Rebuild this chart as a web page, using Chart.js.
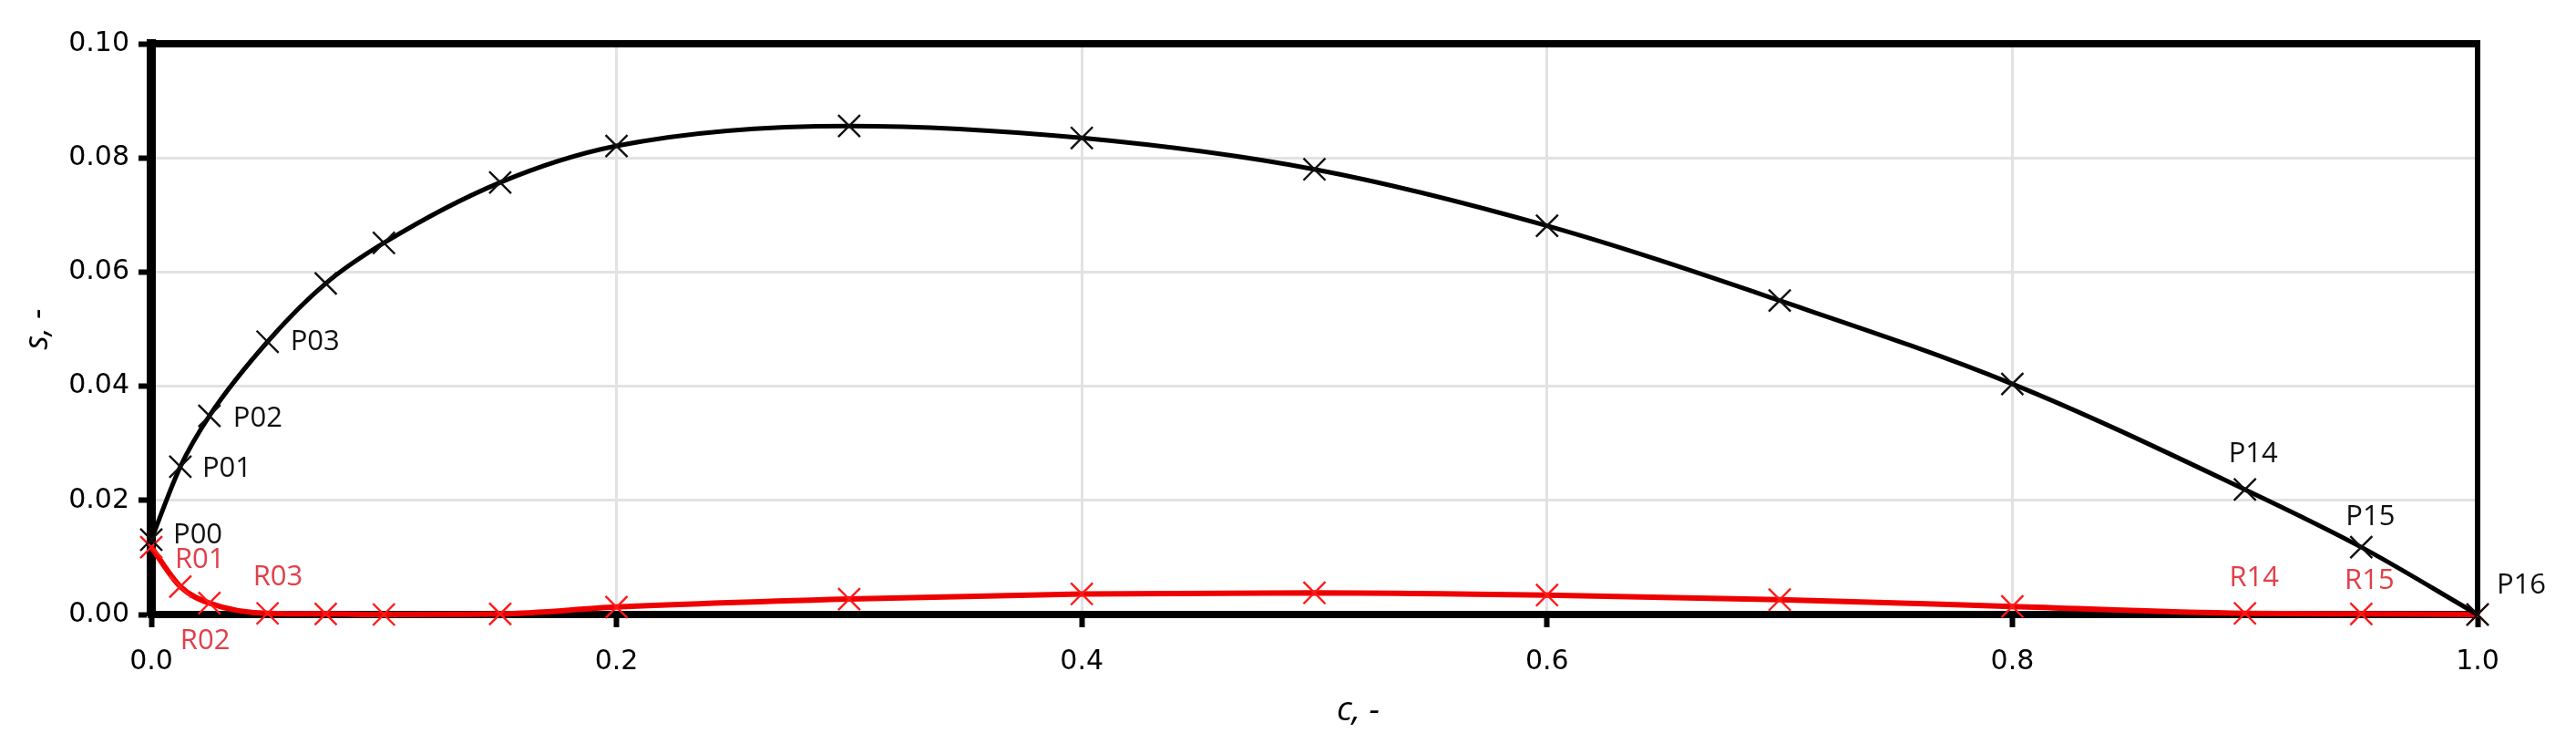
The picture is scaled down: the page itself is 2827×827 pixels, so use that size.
<!DOCTYPE html>
<html>
<head>
<meta charset="utf-8">
<script src="https://cdn.jsdelivr.net/npm/chart.js@4.4.1/dist/chart.umd.min.js"></script>
<style>
  html, body { margin: 0; padding: 0; background: #fff; }
  #chart { display: block; }
</style>
</head>
<body>
<canvas id="chart" width="2827" height="827" style="width:2827px;height:827px"></canvas>
<script>
// concentration c (x) and the two curves s (y)
const cValues = [0, 0.0125, 0.025, 0.05, 0.075, 0.1, 0.15, 0.2, 0.3, 0.4, 0.5, 0.6, 0.7, 0.8, 0.9, 0.95, 1.0];
const sBlack  = [0.0131, 0.0259, 0.0348, 0.0478, 0.0580, 0.0651, 0.0757, 0.0821, 0.0856, 0.0835, 0.0780, 0.0681, 0.0550, 0.0404, 0.0219, 0.0118, 0];
const sRed    = [0.0118, 0.0049, 0.0020, 0.0002, 0.0001, 0, 0.0001, 0.0013, 0.0027, 0.0036, 0.0038, 0.0034, 0.0026, 0.0014, 0.0002, 0.0001, 0];
const blackNames = ['P00','P01','P02','P03','','','','','','','','','','','P14','P15','P16'];
const redNames   = ['','R01','R02','R03','','','','','','','','','','','R14','R15',''];
const xTicks = [0, 0.2, 0.4, 0.6, 0.8, 1.0];
const yTicks = [0, 0.02, 0.04, 0.06, 0.08, 0.10];
const xTitle = 'c, -';
const yTitle = 's, -';

// label placement relative to the marker: [dx, dy, align]
const labelPos = {
  P00: [24, -5, 'left'],  P01: [24, 2, 'left'],  P02: [26, 3, 'left'],  P03: [25, 0, 'left'],
  P14: [9, -39, 'center'], P15: [10, -33, 'center'], P16: [21, -32, 'left'],
  R01: [-6, -29, 'left'], R02: [-32, 42, 'left'], R03: [-16, -40, 'left'],
  R14: [10, -39, 'center'], R15: [9, -36, 'center']
};

const pts = ys => cValues.map((c, i) => ({ x: c, y: ys[i] }));

const frame = {
  id: 'frame',
  beforeDatasetsDraw(chart) {
    const { ctx, chartArea: a } = chart;
    ctx.save();
    ctx.strokeStyle = '#000';
    ctx.lineWidth = 8;
    ctx.beginPath(); ctx.moveTo(a.left, a.top); ctx.lineTo(a.right + 3, a.top); ctx.stroke();
    ctx.lineWidth = 6;
    ctx.beginPath(); ctx.moveTo(a.right, a.top); ctx.lineTo(a.right, a.bottom); ctx.stroke();
    ctx.restore();
  }
};

// x title sits a little right of the plot centre in the original
const xTitlePlugin = {
  id: 'xTitle',
  afterDraw(chart) {
    const { ctx, chartArea: a } = chart;
    ctx.save();
    ctx.font = 'italic 37px "Open Sans"';
    ctx.fillStyle = '#000';
    ctx.textAlign = 'center';
    ctx.textBaseline = 'alphabetic';
    ctx.fillText(xTitle, (a.left + a.right) / 2 + 48, a.bottom + 116);
    ctx.restore();
  }
};

const pointLabels = {
  id: 'pointLabels',
  afterDatasetsDraw(chart) {
    const { ctx, scales: { x, y } } = chart;
    ctx.save();
    ctx.font = '31px "Open Sans"';
    ctx.textBaseline = 'middle';
    [[blackNames, sBlack, '#111'], [redNames, sRed, '#e0404a']].forEach(([names, ys, col]) => {
      names.forEach((n, i) => {
        if (!n) return;
        const p = labelPos[n];
        ctx.fillStyle = col;
        ctx.textAlign = p[2];
        ctx.fillText(n, x.getPixelForValue(cValues[i]) + p[0], y.getPixelForValue(ys[i]) + p[1]);
      });
    });
    ctx.restore();
  }
};

const tickFont = { family: '"DejaVu Sans"', size: 30 };

new Chart(document.getElementById('chart'), {
  type: 'line',
  data: {
    datasets: [
      { label: 'P', data: pts(sBlack), borderColor: '#000', borderWidth: 5,
        pointStyle: 'crossRot', pointRadius: 17, pointBorderWidth: 2.4,
        pointBorderColor: '#111', pointBackgroundColor: 'transparent',
        cubicInterpolationMode: 'monotone', clip: false },
      { label: 'R', data: pts(sRed), borderColor: '#ee0000', borderWidth: 6,
        pointStyle: 'crossRot', pointRadius: 17, pointBorderWidth: 2.4,
        pointBorderColor: '#ff1a1a', pointBackgroundColor: 'transparent',
        cubicInterpolationMode: 'monotone', clip: false }
    ]
  },
  options: {
    responsive: false, devicePixelRatio: 1, animation: false,
    layout: { padding: { left: 0, right: 108, top: 48, bottom: 0 } },
    plugins: { legend: { display: false }, tooltip: { enabled: false } },
    scales: {
      x: {
        type: 'linear', min: 0, max: 1,
        afterFit: s => { s.height = 153; },
        afterBuildTicks: s => { s.ticks = xTicks.map(v => ({ value: v })); },
        ticks: { color: '#000', font: tickFont, padding: 20, maxRotation: 0,
                 callback: v => v.toFixed(1) },
        grid: { color: '#e2e2e2', lineWidth: 3, tickColor: '#000', tickWidth: 6, tickLength: 14 },
        border: { color: '#000', width: 8 }
      },
      y: {
        min: 0, max: 0.1,
        afterFit: s => { s.width = 166; },
        afterBuildTicks: s => { s.ticks = yTicks.map(v => ({ value: v })); },
        ticks: { color: '#000', font: tickFont, padding: 10,
                 callback: v => v.toFixed(2) },
        grid: { color: '#e2e2e2', lineWidth: 3, tickColor: '#000', tickWidth: 6, tickLength: 14 },
        border: { color: '#000', width: 10 },
        title: { display: true, text: yTitle, color: '#000',
                 font: { family: '"Open Sans"', size: 36, style: 'italic' }, padding: { top: 20, bottom: 0 } }
      }
    }
  },
  plugins: [frame, pointLabels, xTitlePlugin]
});
</script>
</body>
</html>
